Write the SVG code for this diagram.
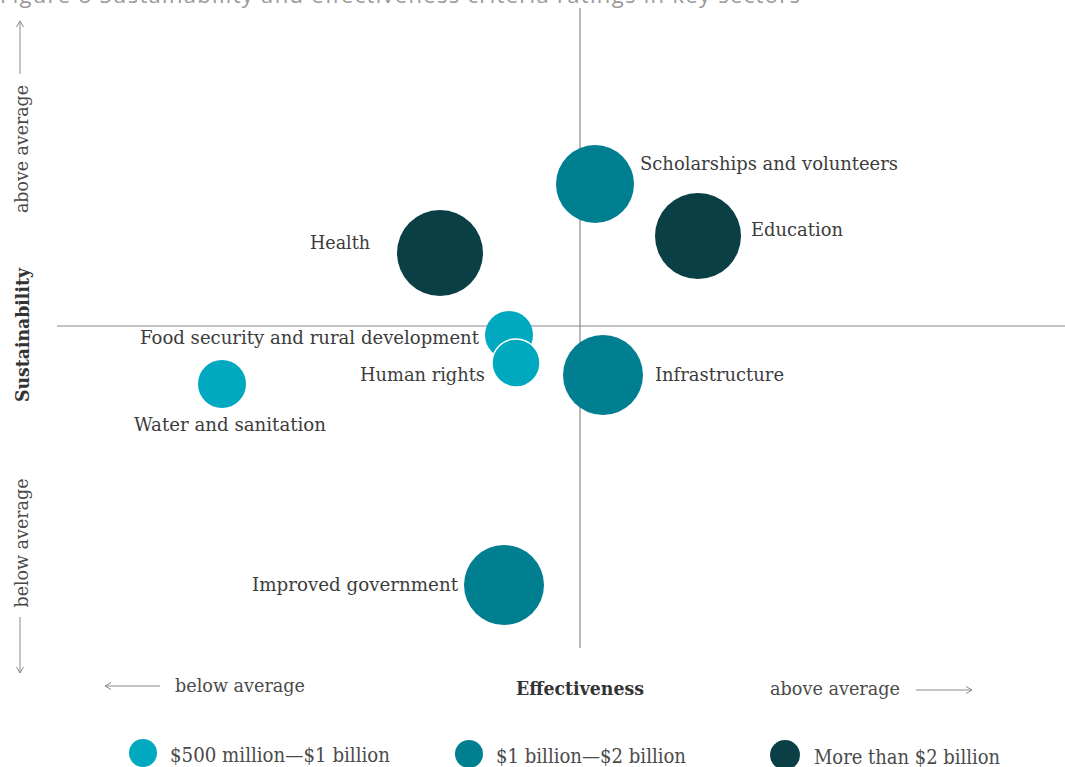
<svg xmlns="http://www.w3.org/2000/svg" width="1065" height="767" viewBox="0 0 1065 767">
<style>
.ax{stroke:#8a8a8a;stroke-width:1.2;fill:none}
.ar{stroke:#8a8a8a;stroke-width:1;fill:none}
.lbl{font-family:"DejaVu Serif","Liberation Serif",serif;font-size:18px;fill:#3c3c3c}
.axt{font-family:"DejaVu Serif","Liberation Serif",serif;font-size:19px;fill:#4a4a4a}
.axb{font-family:"DejaVu Serif","Liberation Serif",serif;font-size:19px;font-weight:bold;fill:#333}
.lg{font-family:"DejaVu Serif","Liberation Serif",serif;font-size:20px;fill:#4a4a4a}
.light{fill:#00a9bf}
.mid{fill:#007f91}
.dark{fill:#0a3f45}
.title{font-family:"Open Sans",sans-serif;font-size:22px;fill:#9a9a9a}
</style>
<defs>
<marker id="ah" markerWidth="10" markerHeight="10" refX="7" refY="5" orient="auto" markerUnits="userSpaceOnUse">
<path d="M1,1.5 L7,5 L1,8.5" fill="none" stroke="#8a8a8a" stroke-width="1"/>
</marker>
</defs>
<text class="title" x="0" y="3" textLength="800">Figure 8   Sustainability and effectiveness criteria ratings in key sectors</text>
<g id="axes">
<line class="ax" x1="580" y1="8" x2="580" y2="648"/>
<line class="ax" x1="57" y1="326" x2="1065" y2="326"/>
<line class="ar" x1="20" y1="74" x2="20" y2="21" marker-end="url(#ah)"/>
<line class="ar" x1="20" y1="617" x2="20" y2="673" marker-end="url(#ah)"/>
<line class="ar" x1="160" y1="686" x2="105" y2="686" marker-end="url(#ah)"/>
<line class="ar" x1="916" y1="690" x2="972" y2="690" marker-end="url(#ah)"/>
<text class="axt" transform="translate(28,149) rotate(-90)" text-anchor="middle" textLength="128" lengthAdjust="spacingAndGlyphs">above average</text>
<text class="axb" transform="translate(29,335) rotate(-90)" text-anchor="middle" textLength="134" lengthAdjust="spacingAndGlyphs">Sustainability</text>
<text class="axt" transform="translate(28,543) rotate(-90)" text-anchor="middle" textLength="129" lengthAdjust="spacingAndGlyphs">below average</text>
<text class="axt" x="175" y="692" textLength="130" lengthAdjust="spacingAndGlyphs">below average</text>
<text class="axb" x="580" y="695" text-anchor="middle" textLength="128" lengthAdjust="spacingAndGlyphs">Effectiveness</text>
<text class="axt" x="770" y="695" textLength="130" lengthAdjust="spacingAndGlyphs">above average</text>
</g>
<g id="node-scholarships">
<circle class="mid" cx="595" cy="184" r="39"/>
<text class="lbl" x="640" y="170" textLength="258" lengthAdjust="spacingAndGlyphs">Scholarships and volunteers</text>
</g>
<g id="node-education">
<circle class="dark" cx="698" cy="236" r="43"/>
<text class="lbl" x="751" y="236" textLength="92" lengthAdjust="spacingAndGlyphs">Education</text>
</g>
<g id="node-health">
<circle class="dark" cx="440" cy="253" r="43"/>
<text class="lbl" x="370" y="249" text-anchor="end" textLength="60" lengthAdjust="spacingAndGlyphs">Health</text>
</g>
<g id="node-food">
<circle class="light" cx="509" cy="335" r="24"/>
<text class="lbl" x="479" y="344" text-anchor="end" textLength="339" lengthAdjust="spacingAndGlyphs">Food security and rural development</text>
</g>
<g id="node-human-rights">
<circle class="light" cx="516" cy="363" r="24" stroke="#fff" stroke-width="1.5"/>
<text class="lbl" x="485" y="381" text-anchor="end" textLength="125" lengthAdjust="spacingAndGlyphs">Human rights</text>
</g>
<g id="node-infrastructure">
<circle class="mid" cx="603" cy="375" r="40"/>
<text class="lbl" x="655" y="381" textLength="129" lengthAdjust="spacingAndGlyphs">Infrastructure</text>
</g>
<g id="node-water">
<circle class="light" cx="222" cy="384" r="24"/>
<text class="lbl" x="230" y="431" text-anchor="middle" textLength="192" lengthAdjust="spacingAndGlyphs">Water and sanitation</text>
</g>
<g id="node-government">
<circle class="mid" cx="504" cy="585" r="40"/>
<text class="lbl" x="458" y="591" text-anchor="end" textLength="206" lengthAdjust="spacingAndGlyphs">Improved government</text>
</g>
<g id="legend">
<circle class="light" cx="143" cy="753" r="14"/>
<text class="lg" x="170" y="762" textLength="220" lengthAdjust="spacingAndGlyphs">$500 million—$1 billion</text>
<circle class="mid" cx="469" cy="754" r="14"/>
<text class="lg" x="496" y="763" textLength="190" lengthAdjust="spacingAndGlyphs">$1 billion—$2 billion</text>
<circle class="dark" cx="785" cy="755" r="15"/>
<text class="lg" x="814" y="764" textLength="186" lengthAdjust="spacingAndGlyphs">More than $2 billion</text>
</g>
</svg>
